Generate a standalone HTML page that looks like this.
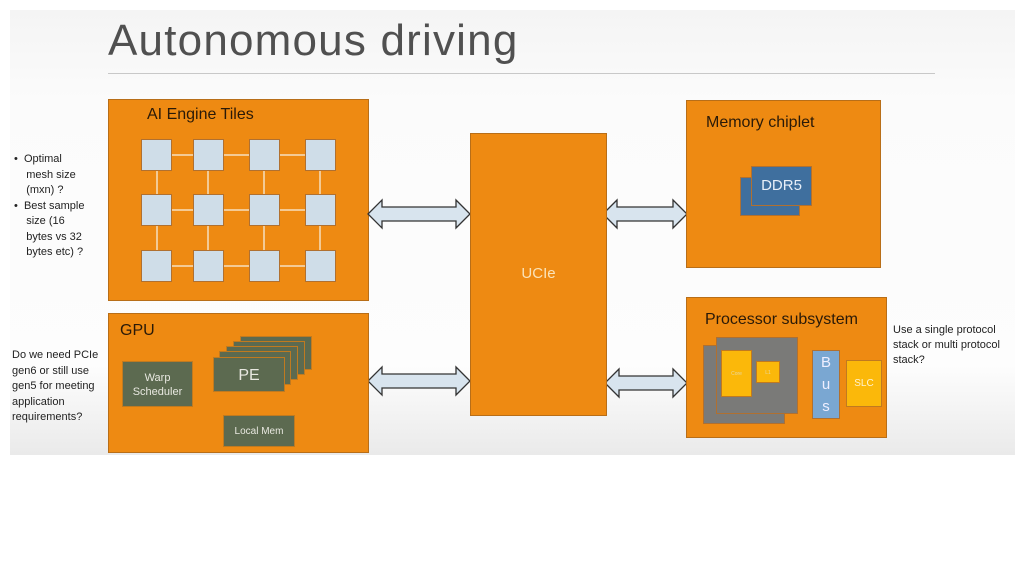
<!DOCTYPE html>
<html><head><meta charset="utf-8"><style>
*{margin:0;padding:0;box-sizing:border-box}
body{width:1024px;height:576px;background:#fff;position:relative;overflow:hidden;font-family:"Liberation Sans",sans-serif}
.a{position:absolute}
.o{position:absolute;background:#ee8a12;border:1px solid #b86e18}
.t{position:absolute;background:#cfdde8;border:1px solid #b07030}
.g{position:absolute;background:#5c6a50;border:1px solid #c07a20;color:#e8e8e0;text-align:center}
.lbl{position:absolute;color:#2a1a08;font-size:16px}
.s{position:absolute;font-size:11px;line-height:15.5px;color:#222}
</style></head><body>
<div class="a" style="left:10px;top:10px;width:1005px;height:445px;background:linear-gradient(#f4f4f4,#fbfbfb 20%,#fdfdfd 80%,#eaeaea)"></div>
<div class="a" style="left:108px;top:16px;font-size:44px;color:#505050;letter-spacing:1.2px">Autonomous driving</div>
<div class="a" style="left:108px;top:73px;width:827px;height:1px;background:#c8c8c8"></div>

<!-- AI engine -->
<div class="o" style="left:108px;top:99px;width:261px;height:202px"></div>
<div class="lbl" style="left:147px;top:106px">AI Engine Tiles</div>
<svg class="a" style="left:0;top:0" width="1024" height="576">
<g stroke="#f5e0c0" stroke-width="1.5">
<line x1="157" y1="155" x2="320" y2="155"/><line x1="157" y1="210" x2="320" y2="210"/><line x1="157" y1="266" x2="320" y2="266"/>
<line x1="157" y1="155" x2="157" y2="266"/><line x1="208" y1="155" x2="208" y2="266"/><line x1="264" y1="155" x2="264" y2="266"/><line x1="320" y1="155" x2="320" y2="266"/>
</g>
<g fill="#d8e4ee" stroke="#333" stroke-width="1.3">
<path d="M368,214 L382,200 L382,207 L456,207 L456,200 L470,214 L456,228 L456,221 L382,221 L382,228 Z"/>
<path d="M368,381 L382,367 L382,374 L456,374 L456,367 L470,381 L456,395 L456,388 L382,388 L382,395 Z"/>
<path d="M603,214 L617,200 L617,207 L673,207 L673,200 L687,214 L673,228 L673,221 L617,221 L617,228 Z"/>
<path d="M605,383 L619,369 L619,376 L673,376 L673,369 L687,383 L673,397 L673,390 L619,390 L619,397 Z"/>
</g>
</svg>
<div class="t" style="left:141px;top:139px;width:31px;height:32px"></div>
<div class="t" style="left:193px;top:139px;width:31px;height:32px"></div>
<div class="t" style="left:249px;top:139px;width:31px;height:32px"></div>
<div class="t" style="left:305px;top:139px;width:31px;height:32px"></div>
<div class="t" style="left:141px;top:194px;width:31px;height:32px"></div>
<div class="t" style="left:193px;top:194px;width:31px;height:32px"></div>
<div class="t" style="left:249px;top:194px;width:31px;height:32px"></div>
<div class="t" style="left:305px;top:194px;width:31px;height:32px"></div>
<div class="t" style="left:141px;top:250px;width:31px;height:32px"></div>
<div class="t" style="left:193px;top:250px;width:31px;height:32px"></div>
<div class="t" style="left:249px;top:250px;width:31px;height:32px"></div>
<div class="t" style="left:305px;top:250px;width:31px;height:32px"></div>

<div class="s" style="left:14px;top:152px">•&nbsp;&nbsp;Optimal<br>&nbsp;&nbsp;&nbsp;&nbsp;mesh size<br>&nbsp;&nbsp;&nbsp;&nbsp;(mxn) ?<br>•&nbsp;&nbsp;Best sample<br>&nbsp;&nbsp;&nbsp;&nbsp;size (16<br>&nbsp;&nbsp;&nbsp;&nbsp;bytes vs 32<br>&nbsp;&nbsp;&nbsp;&nbsp;bytes etc) ?</div>

<!-- GPU -->
<div class="o" style="left:108px;top:313px;width:261px;height:140px"></div>
<div class="lbl" style="left:120px;top:322px">GPU</div>
<div class="g" style="left:122px;top:361px;width:71px;height:46px;font-size:11px;line-height:14px;padding-top:9px">Warp<br>Scheduler</div>
<div class="g" style="left:240px;top:336px;width:72px;height:34px"></div>
<div class="g" style="left:233px;top:341px;width:72px;height:34px"></div>
<div class="g" style="left:226px;top:346px;width:72px;height:34px"></div>
<div class="g" style="left:219px;top:351px;width:72px;height:34px"></div>
<div class="g" style="left:213px;top:357px;width:72px;height:35px;font-size:16px;line-height:35px">PE</div>
<div class="g" style="left:223px;top:415px;width:72px;height:32px;font-size:10px;line-height:31px">Local Mem</div>
<div class="s" style="left:12px;top:348px">Do we need PCIe<br>gen6 or still use<br>gen5 for meeting<br>application<br>requirements?</div>

<!-- UCIe -->
<div class="o" style="left:470px;top:133px;width:137px;height:283px"></div>
<div class="a" style="left:470px;top:265px;width:137px;text-align:center;color:#fbe3b8;font-size:15px">UCIe</div>

<!-- Memory -->
<div class="o" style="left:686px;top:100px;width:195px;height:168px"></div>
<div class="lbl" style="left:706px;top:114px">Memory chiplet</div>
<div class="a" style="left:740px;top:177px;width:60px;height:39px;background:#3f6f9e;border:1px solid #b07030"></div>
<div class="a" style="left:751px;top:166px;width:61px;height:40px;background:#3f6f9e;border:1px solid #b07030;color:#e8eff8;font-size:15px;text-align:center;line-height:38px">DDR5</div>

<!-- Processor -->
<div class="o" style="left:686px;top:297px;width:201px;height:141px"></div>
<div class="lbl" style="left:705px;top:311px">Processor subsystem</div>
<div class="a" style="left:703px;top:345px;width:82px;height:79px;background:#7a7a78;border:1px solid #b07030"></div>
<div class="a" style="left:716px;top:337px;width:82px;height:77px;background:#7a7a78;border:1px solid #b07030"></div>
<div class="a" style="left:721px;top:350px;width:31px;height:47px;background:#fbb80a;border:1px solid #c07a20;font-size:5px;color:#e8d8a0;text-align:center;line-height:47px">Core</div>
<div class="a" style="left:756px;top:361px;width:24px;height:22px;background:#fbb80a;border:1px solid #c07a20;font-size:5px;color:#e8d8a0;text-align:center;line-height:22px">L1</div>
<div class="a" style="left:812px;top:350px;width:28px;height:69px;background:#7aa7d2;border:1px solid #b07030;color:#eef;font-size:15px;text-align:center;line-height:22px;padding-top:1px">B<br>u<br>s</div>
<div class="a" style="left:846px;top:360px;width:36px;height:47px;background:#fbb80a;border:1px solid #c07a20;color:#fff3d0;font-size:10px;text-align:center;line-height:45px">SLC</div>
<div class="s" style="left:893px;top:323px;line-height:15px">Use a single protocol<br>stack or multi protocol<br>stack?</div>
</body></html>
